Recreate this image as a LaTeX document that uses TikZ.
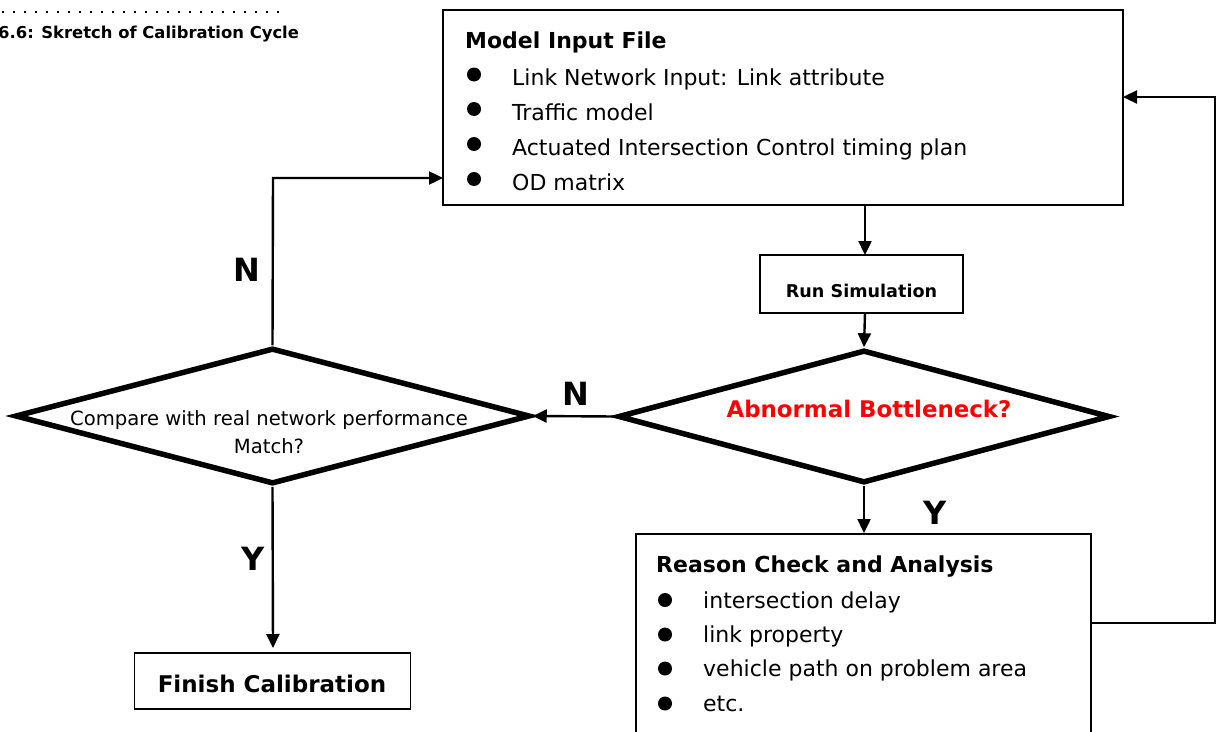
\documentclass[tikz,border=0pt]{standalone}
\usepackage{fontspec}
\setmainfont{DejaVu Sans}
\usetikzlibrary{arrows.meta,shapes.geometric}
\definecolor{alarmred}{RGB}{255,0,0}
\begin{document}
\begin{tikzpicture}[x=1pt,y=-1pt,
  boxthin/.style={draw, line width=1.8pt, rectangle, inner sep=0pt},
  decision/.style={draw, line width=5.5pt, diamond, inner sep=0pt, line join=miter},
  flow/.style={line width=2.4pt, -{Triangle[length=14pt,width=13pt]}},
  bodytext/.style={anchor=base west, inner sep=0pt, font=\fontsize{22}{26}\selectfont},
  titletext/.style={anchor=base west, inner sep=0pt, font=\fontsize{22}{26}\selectfont\bfseries},
  yn/.style={anchor=base, inner sep=0pt, font=\fontsize{32}{36}\selectfont\bfseries},
  dot/.style={circle, fill=black, inner sep=0pt, minimum size=14pt}
]
\useasboundingbox (0,0) rectangle (1218,731);
\clip (0,0) rectangle (1218,731);
\fill[white] (0,0) rectangle (1218,731);

% caption
\draw[line width=1.6pt, dash pattern=on 1.6pt off 9.4pt] (2,12) -- (280,12);
\node[anchor=base west, inner sep=0pt, font=\fontsize{16.4}{19}\selectfont\bfseries] (cap) at (-2,38) {6.6: Skretch of Calibration Cycle};

% Model input file box
\node[boxthin, minimum width=680pt, minimum height=195pt] (model) at (783,107.5) {};
\node[titletext] (mtitle) at (465,48.5) {Model Input File};
\node[dot] (mb1) at (474,74.5) {};
\node[dot] (mb2) at (474,109) {};
\node[dot] (mb3) at (474,144) {};
\node[dot] (mb4) at (474,179) {};
\node[bodytext] (mt1) at (512,85) {Link Network Input: Link attribute};
\node[bodytext] (mt2) at (512,120.5) {Traffic model};
\node[bodytext] (mt3) at (512,155.5) {Actuated Intersection Control timing plan};
\node[bodytext] (mt4) at (512,190.5) {OD matrix};

% run simulation
\node[boxthin, minimum width=203pt, minimum height=58pt] (run) at (861.5,284) {};
\node[anchor=base, inner sep=0pt, font=\fontsize{17.6}{21}\selectfont\bfseries] (runt) at (861.5,297) {Run Simulation};

% abnormal bottleneck diamond
\node[decision, minimum width=492pt, minimum height=133pt] (abn) at (864,416.5) {};
\node[anchor=base, inner sep=0pt, text=alarmred, font=\fontsize{22.9}{26}\selectfont\bfseries] (abnt) at (869,417) {Abnormal Bottleneck?};

% compare diamond
\node[decision, minimum width=515pt, minimum height=136pt] (cmp) at (272.5,416) {};
\node[anchor=base, inner sep=0pt, font=\fontsize{19.6}{23}\selectfont] (cmpt1) at (269,425) {Compare with real network performance};
\node[anchor=base, inner sep=0pt, font=\fontsize{19.6}{23}\selectfont] (cmpt2) at (269,453) {Match?};

% finish
\node[boxthin, minimum width=276pt, minimum height=56pt] (fin) at (272.5,681) {};
\node[anchor=base, inner sep=0pt, font=\fontsize{23}{27}\selectfont\bfseries] (fint) at (272,692) {Finish Calibration};

% reason box
\node[boxthin, minimum width=455pt, minimum height=220pt, anchor=north west] (rea) at (635,533) {};
\node[titletext] (rtitle) at (656,572) {Reason Check and Analysis};
\node[dot] (rb1) at (665,600) {};
\node[dot] (rb2) at (665,634.5) {};
\node[dot] (rb3) at (665,668.5) {};
\node[dot] (rb4) at (665,703.5) {};
\node[bodytext] (rt1) at (703,608) {intersection delay};
\node[bodytext] (rt2) at (703,642) {link property};
\node[bodytext] (rt3) at (703,676) {vehicle path on problem area};
\node[bodytext] (rt4) at (703,711) {etc.};

% connectors
\coordinate (mbot) at (865,205);
\coordinate (rtop) at (865,255);
\coordinate (rbot) at (865,313);
\coordinate (upcorner) at (273,178);
\coordinate (modleft) at (443,178);
\coordinate (reaout) at (1090,623);
\coordinate (rc1) at (1215,623);
\coordinate (rc2) at (1215,97);
\coordinate (modin) at (1123,97);
\coordinate (finarr) at (273,648);

\draw[flow] (mbot) -- (rtop);
\draw[flow] (rbot) -- (abn.north);
\draw[flow] (abn.west) -- (cmp.east);
\draw[flow] (cmp.north) -- (upcorner) -- (modleft);
\draw[flow] (cmp.south) -- (finarr);
\draw[flow] (abn.south) -- (abn.south |- rea.north);
\draw[flow] (reaout) -- (rc1) -- (rc2) -- (modin);

% labels
\node[yn] (lblN1) at (576,405) {N};
\node[yn] (lblN2) at (247,281) {N};
\node[yn] (lblY1) at (253,570) {Y};
\node[yn] (lblY2) at (935,524) {Y};
\end{tikzpicture}
\end{document}
